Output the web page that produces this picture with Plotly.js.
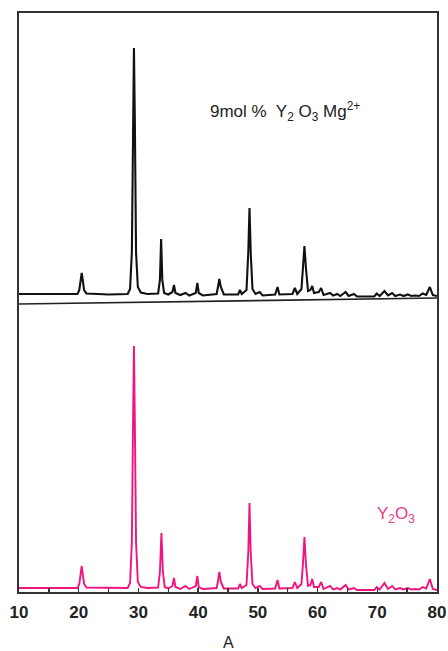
<!DOCTYPE html>
<html>
<head>
<meta charset="utf-8">
<script src="https://cdn.plot.ly/plotly-3.0.1.min.js"></script>
<style>html,body{margin:0;padding:0;background:#fff;}#chart{width:448px;height:651px;}</style>
</head>
<body>
<div id="chart"></div>
<script>
// 2θ (degrees) and intensity (a.u., with vertical offset for the doped sample)
const dopedTwoTheta = [10,15,19.8,20.1,20.35,20.5,20.65,20.9,21.3,25,28.2,28.6,28.9,29.1,29.25,29.4,29.6,29.9,30.4,31.5,33.3,33.6,33.8,34.0,34.3,35.0,35.7,35.95,36.2,37.0,37.9,38.5,39.6,39.87,40.1,40.8,43.1,43.35,43.55,43.8,44.3,46.7,47.0,47.3,48.1,48.4,48.6,48.8,49.1,49.6,50.3,50.8,52.9,53.3,53.6,55.8,56.2,56.6,57.3,57.55,57.8,58.05,58.4,58.8,59.1,59.4,60.2,60.6,61.0,62.1,62.6,63.3,63.8,64.7,65.2,66.1,66.6,69.5,69.9,70.4,71.2,71.8,72.5,73.0,73.8,74.4,75.1,75.7,76.3,77.0,77.6,78.2,78.8,79.3,80];
const dopedIntensity = [298,298,298,302,313,319,313,302,298.5,297.5,298,303,340,470,544,470,340,305,299.5,298,298.5,312,353,312,299,297.5,300,307,299,297,299,296.5,299,309,299,296.5,298,306,313,305,297.5,297.5,302,298,302,340,384,340,303,298,300,296.5,297.5,305,297.5,298,304,298,303,324,346,324,301,302,306,299,300,304,297,299,296.5,298,296,300,296,298,295.5,295.5,298.5,296,301,296.5,299,296,297.5,296,297.5,296,296.5,296,298.5,297,305,297,296];

const pureTwoTheta = [10,19.8,20.1,20.35,20.5,20.65,20.9,21.3,28.2,28.6,28.9,29.1,29.25,29.4,29.6,29.9,30.4,31.5,33.3,33.6,33.85,34.1,34.4,35.0,35.7,35.95,36.2,37.0,37.9,38.5,39.6,39.87,40.1,40.8,43.1,43.35,43.55,43.8,44.3,46.7,47.0,47.3,48.1,48.4,48.6,48.8,49.1,49.6,50.3,50.8,52.9,53.3,53.6,55.8,56.2,56.6,57.3,57.55,57.8,58.05,58.4,58.8,59.1,59.4,60.2,60.6,61.0,62.1,62.6,63.3,63.8,64.7,65.2,66.1,66.6,69.5,69.9,70.4,71.2,71.8,72.5,73.0,73.8,74.4,75.1,75.7,76.3,77.0,77.6,78.2,78.8,79.3,80];
const pureIntensity = [4,4,8,19,26,19,8,4.5,4,9,50,170,246,170,50,10,5,4,4.5,20,59,20,5,3.5,6,14,5,3,6,3,6,16,5,3,4,12,20,10,3.5,3.5,8,4,7,40,89,40,8,4,6,3,3.5,12,3.5,4,10,4,8,28,55,28,6,7,13,5,5,10,3,6,2.5,4,2.5,7,2.5,4,2,2,5,2.5,9,3,6,2.5,4,2.5,4,2.5,3,2.5,5,3.5,13,3,2];

const dividerX = [10, 80];
const dividerY = [288, 294];

const xTickVals = [10,20,30,40,50,60,70,80];
const xTickText = ['10','20','30','40','50','60','70','80'];

const traces = [
  {x: dopedTwoTheta, y: dopedIntensity, type:'scatter', mode:'lines', line:{color:'#111', width:2.1}, hoverinfo:'skip'},
  {x: dividerX, y: dividerY, type:'scatter', mode:'lines', line:{color:'#222', width:1.6}, hoverinfo:'skip'},
  {x: pureTwoTheta, y: pureIntensity, type:'scatter', mode:'lines', line:{color:'#f0147f', width:1.9}, hoverinfo:'skip'}
];

const layout = {
  width:448, height:651,
  margin:{l:19, r:11, t:13, b:59},
  paper_bgcolor:'#fff', plot_bgcolor:'#fff',
  showlegend:false,
  font:{family:'"Liberation Sans", Arial, sans-serif', color:'#222'},
  xaxis:{
    range:[10,80], showgrid:false, zeroline:false,
    showline:true, linecolor:'#333', linewidth:1.6, mirror:true,
    ticks:'inside', ticklen:4, tickwidth:1.3, tickcolor:'#333',
    tickvals:xTickVals, ticktext:xTickText,
    tickfont:{size:17, weight:'bold', color:'#222'},
    ticklabelstandoff:4,
    minor:{dtick:5, tick0:10, ticks:'inside', ticklen:4, tickwidth:1.3, tickcolor:'#333'}
  },
  yaxis:{
    range:[0,579], showgrid:false, zeroline:false,
    showline:true, linecolor:'#333', linewidth:1.6, mirror:true,
    ticks:'', showticklabels:false
  },
  annotations:[
    {x:41.66, y:481, xref:'x', yref:'y', xanchor:'left', yanchor:'middle', showarrow:false,
     text:'9mol %  Y<sub>2</sub> O<sub>3</sub> Mg<sup>2+</sup>', font:{size:17, color:'#222'}},
    {x:69.6, y:77, xref:'x', yref:'y', xanchor:'left', yanchor:'middle', showarrow:false,
     text:'Y<sub>2</sub>O<sub>3</sub>', font:{size:17, color:'#e8388c'}},
    {x:0.5, y:-0.0864, xref:'paper', yref:'paper', xanchor:'center', yanchor:'middle', showarrow:false,
     borderpad:0, text:'A', font:{size:16, color:'#222'}}
  ]
};

Plotly.newPlot('chart', traces, layout, {staticPlot:true, displayModeBar:false});
</script>
</body>
</html>
